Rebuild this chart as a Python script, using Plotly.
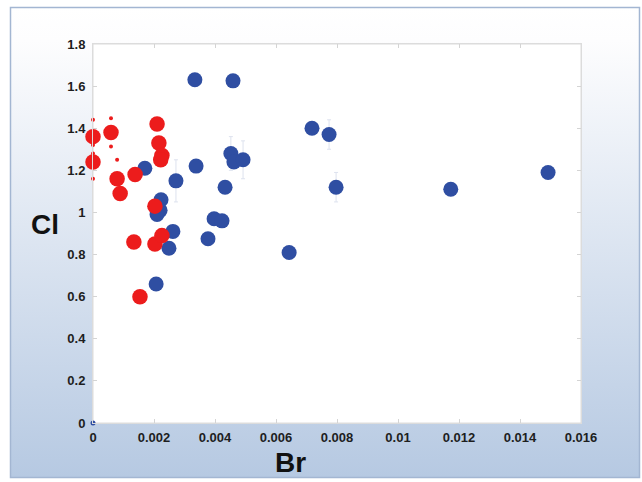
import plotly.graph_objects as go
import base64

# ---------------- data ----------------
blue_br = [0.00334, 0.00459, 0.00718, 0.00774, 0.00452, 0.00462, 0.00492,
           0.00338, 0.00170, 0.00272, 0.00433, 0.00797, 0.01173, 0.01492,
           0.00223, 0.00220, 0.00210, 0.00397, 0.00423, 0.00262, 0.00377,
           0.00249, 0.00643, 0.00207]
blue_cl = [1.63, 1.625, 1.40, 1.37, 1.28, 1.24, 1.25,
           1.22, 1.21, 1.15, 1.12, 1.12, 1.11, 1.19,
           1.06, 1.01, 0.99, 0.97, 0.96, 0.91, 0.875,
           0.83, 0.81, 0.66]
blue_err = [0, 0, 0, 0.07, 0.08, 0, 0.09,
            0, 0, 0.10, 0, 0.07, 0, 0,
            0, 0, 0, 0, 0, 0, 0,
            0, 0, 0]

red_br = [0.0, 0.0, 0.00059, 0.00079, 0.00089, 0.00138, 0.00210, 0.00216,
          0.00226, 0.00222, 0.00203, 0.00134, 0.00203, 0.00226, 0.00154]
red_cl = [1.36, 1.24, 1.38, 1.16, 1.09, 1.18, 1.42, 1.33,
          1.27, 1.25, 1.03, 0.86, 0.85, 0.89, 0.60]
red_err = [0.08, 0.08, 0.067, 0.09, 0, 0, 0.05, 0,
           0, 0, 0, 0.05, 0, 0, 0]

origin_br = [0.0]
origin_cl = [0.0]

x_ticks = [0, 0.002, 0.004, 0.006, 0.008, 0.01, 0.012, 0.014, 0.016]
x_labels = ["0", "0.002", "0.004", "0.006", "0.008", "0.01", "0.012", "0.014", "0.016"]
y_ticks = [0, 0.2, 0.4, 0.6, 0.8, 1, 1.2, 1.4, 1.6, 1.8]
y_labels = ["0", "0.2", "0.4", "0.6", "0.8", "1", "1.2", "1.4", "1.6", "1.8"]

# ---------------- layout geometry ----------------
W, H = 642, 482
ML, MR, MT, MB = 93, 61, 44, 59
PW, PH = W - ML - MR, H - MT - MB

BLUE = "#2f4ea2"
RED = "#ec1c1c"

# gradient background (svg)
svg = f'''<svg xmlns="http://www.w3.org/2000/svg" width="{W}" height="{H}" viewBox="0 0 {W} {H}" preserveAspectRatio="none">
<defs><linearGradient id="g" x1="0" y1="0" x2="0" y2="1">
<stop offset="0" stop-color="#ffffff"/>
<stop offset="0.07" stop-color="#fdfdfe"/>
<stop offset="1" stop-color="#b6c9e2"/>
</linearGradient></defs>
<rect x="0" y="0" width="{W}" height="{H}" fill="#ffffff"/>
<rect x="10.5" y="7.5" width="629" height="470" fill="url(#g)" stroke="#a3b6d2" stroke-width="1.5"/>
</svg>'''
src = "data:image/svg+xml;base64," + base64.b64encode(svg.encode()).decode()

fig = go.Figure()

fig.add_trace(go.Scatter(
    x=blue_br, y=blue_cl, mode="markers",
    marker=dict(size=15, color=BLUE, line=dict(width=0)),
    error_y=dict(type="data", array=blue_err, visible=True,
                 color="#dde2ee", thickness=1, width=2),
    showlegend=False))

fig.add_trace(go.Scatter(
    x=origin_br, y=origin_cl, mode="markers",
    marker=dict(size=5, color=BLUE), showlegend=False, cliponaxis=False))

# red error ends as small dots
ex, ey = [], []
for xb, yc, e in zip(red_br, red_cl, red_err):
    if e > 0 and xb < 0.001:
        ex += [xb, xb]
        ey += [yc + e, yc - e]
fig.add_trace(go.Scatter(
    x=ex, y=ey, mode="markers",
    marker=dict(size=4, color=RED), showlegend=False, cliponaxis=False))

fig.add_trace(go.Scatter(
    x=red_br, y=red_cl, mode="markers",
    marker=dict(size=15.5, color=RED, line=dict(width=0)),
    showlegend=False, cliponaxis=False))

axis_common = dict(
    showgrid=False, zeroline=False, showline=True, linecolor="#dcdcdc",
    linewidth=1, mirror="ticks", ticks="inside", ticklen=4,
    tickcolor="#d4d4d4", tickfont=dict(family="Liberation Sans, Arial", size=13,
                                       color="#1e1e1e", weight="bold"))

fig.update_xaxes(range=[0, 0.016], tickvals=x_ticks, ticktext=x_labels,
                 ticklabelstandoff=2, **axis_common)
fig.update_yaxes(range=[0, 1.8], tickvals=y_ticks, ticktext=y_labels,
                 ticklabelstandoff=4, **axis_common)

fig.update_layout(
    width=W, height=H,
    margin=dict(l=ML, r=MR, t=MT, b=MB, pad=0),
    paper_bgcolor="#ffffff", plot_bgcolor="rgba(0,0,0,0)",
    images=[dict(source=src, xref="paper", yref="paper",
                 x=-ML / PW, y=1 + MT / PH, sizex=W / PW, sizey=H / PH,
                 xanchor="left", yanchor="top", sizing="stretch",
                 layer="below")],
    shapes=[dict(type="rect", xref="paper", yref="paper", x0=0, y0=0, x1=1, y1=1,
                 fillcolor="#ffffff", line=dict(color="#dcdcdc", width=1),
                 layer="below")],
    annotations=[
        dict(text="<b>Br</b>", xref="paper", yref="paper",
             x=(290 - ML) / PW, y=-(462 - (MT + PH)) / PH,
             showarrow=False, xanchor="center", yanchor="middle",
             font=dict(family="Liberation Sans, Arial", size=28, color="#111111")),
        dict(text="<b>Cl</b>", xref="paper", yref="paper",
             x=-(ML - 45) / PW, y=1 - (225 - MT) / PH,
             showarrow=False, xanchor="center", yanchor="middle",
             font=dict(family="Liberation Sans, Arial", size=28, color="#111111")),
    ],
)

fig.write_html("out.html", config={"displayModeBar": False},
               post_script="document.body.style.margin='0';document.body.style.overflow='hidden';")
